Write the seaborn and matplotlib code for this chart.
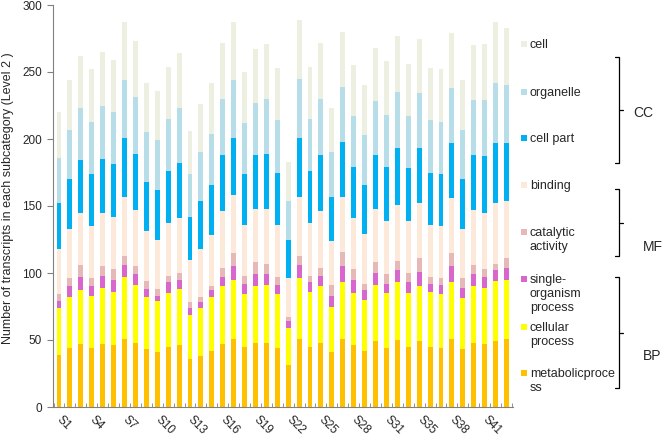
import numpy as np
import pandas as pd
import matplotlib
matplotlib.use("Agg")
import matplotlib.pyplot as plt
import seaborn as sns
from matplotlib.patches import Rectangle

# sample names (S34 is absent in the source figure)
samples = [f"S{i}" for i in range(1, 34)] + [f"S{i}" for i in range(35, 44)]

metabolic = [39, 44, 47, 44, 47, 46, 51, 48, 43, 41, 45, 46, 36, 38, 42, 47, 51, 45, 48, 48, 44,
             31, 51, 45, 48, 41, 51, 46, 42, 49, 44, 50, 45, 49, 45, 44, 51, 43, 48, 47, 49, 51]
cellular = [35, 38, 40, 39, 42, 40, 46, 43, 39, 38, 40, 42, 33, 36, 40, 43, 44, 39, 42, 43, 40,
            28, 45, 41, 42, 34, 42, 39, 38, 42, 41, 43, 40, 41, 41, 40, 42, 38, 42, 42, 45, 44]
single_organism = [5, 8, 10, 7, 9, 9, 9, 8, 6, 4, 8, 7, 5, 4, 5, 7, 10, 8, 9, 8, 7,
                   5, 10, 7, 8, 8, 12, 10, 7, 9, 7, 9, 8, 11, 6, 7, 12, 8, 9, 8, 8, 9]
catalytic = [5, 6, 9, 6, 7, 8, 7, 6, 6, 5, 5, 5, 4, 4, 3, 7, 10, 6, 9, 8, 6,
             3, 7, 5, 6, 8, 11, 8, 5, 8, 7, 7, 7, 10, 5, 5, 10, 7, 7, 6, 5, 7]
binding = [34, 37, 39, 39, 40, 39, 44, 42, 37, 37, 39, 41, 32, 36, 38, 42, 43, 38, 40, 41, 39,
           29, 44, 39, 42, 33, 41, 38, 37, 40, 40, 42, 39, 41, 39, 39, 41, 37, 41, 42, 45, 43]
cell_part = [34, 37, 39, 39, 40, 39, 44, 42, 37, 37, 39, 41, 32, 36, 38, 42, 43, 38, 40, 41, 39,
             29, 44, 39, 42, 33, 41, 38, 37, 40, 40, 42, 39, 41, 39, 39, 41, 37, 41, 42, 45, 43]
organelle = [34, 37, 39, 39, 40, 39, 43, 42, 37, 37, 39, 41, 32, 36, 38, 42, 43, 38, 39, 41, 39,
             29, 44, 39, 42, 33, 41, 38, 37, 40, 39, 42, 39, 41, 39, 39, 41, 37, 41, 42, 45, 43]
cell = [34, 37, 39, 39, 40, 39, 43, 42, 37, 37, 39, 41, 32, 36, 38, 42, 43, 38, 40, 41, 39,
        29, 44, 39, 42, 33, 41, 38, 37, 40, 40, 42, 39, 41, 39, 39, 41, 37, 41, 42, 45, 43]

# bottom -> top
categories = ["metabolicprocess", "cellular process", "single-organism process",
              "catalytic activity", "binding", "cell part", "organelle", "cell"]
series = [metabolic, cellular, single_organism, catalytic, binding, cell_part, organelle, cell]
colors = ["#FFC000", "#FFFF00", "#D966CC", "#E6B9B8", "#FDE9D9", "#00B0F0", "#B7DEE8", "#EDF0E0"]

legend_lines = [["metabolicproce", "ss"], ["cellular", "process"], ["single-", "organism", "process"],
                ["catalytic", "activity"], ["binding"], ["cell part"], ["organelle"], ["cell"]]

df = pd.DataFrame(dict(zip(categories, series)))
df["sample"] = samples
cum = df[categories].cumsum(axis=1)
cum["sample"] = samples

sns.set_style("ticks")
plt.rcParams["font.family"] = ["Liberation Sans", "DejaVu Sans"]

fig = plt.figure(figsize=(6.71, 4.37), dpi=100)
ax = fig.add_axes([53 / 671, 1 - 407 / 437, 460 / 671, 402 / 437])

# draw tallest cumulative first so smaller ones sit on top
for cat, col in zip(reversed(categories), reversed(colors)):
    sns.barplot(data=cum, x="sample", y=cat, color=col, saturation=1, width=0.45,
                errorbar=None, linewidth=0, ax=ax)

ax.set_ylim(0, 300)
ax.set_xlim(-0.55, 41.6)
ax.set_yticks(range(0, 301, 50))
ax.set_xticks(range(0, len(samples), 3))
ax.set_xticklabels(samples[::3], rotation=-45, ha="left", va="center",
                   rotation_mode="anchor", fontsize=8.5)
ax.set_xticks(np.arange(-0.5, len(samples), 1), minor=True)
ax.tick_params(axis="x", which="major", length=0, pad=8)
ax.tick_params(axis="x", which="minor", direction="in", length=3, color="#808080")
ax.tick_params(axis="y", length=4, color="#808080", labelsize=8.5, pad=4)
ax.set_xlabel("")
ax.set_ylabel("Number of transcripts in each subcategory (Level 2 )", fontsize=9, va="center")
ax.yaxis.set_label_coords(-0.098, 0.52)
for s in ["top", "right"]:
    ax.spines[s].set_visible(False)
for s in ["left", "bottom"]:
    ax.spines[s].set_color("#808080")

# overlay in pixel coordinates for legend and brackets
ov = fig.add_axes([0, 0, 1, 1])
ov.set_xlim(0, 671)
ov.set_ylim(437, 0)
ov.axis("off")
ov.patch.set_visible(False)

first_y = [373.3, 326.7, 279.3, 232.3, 185, 138.3, 91.7, 44.3]
for lines, col, y in zip(legend_lines, colors, first_y):
    ov.add_patch(Rectangle((520.7, y - 3), 6, 6, color=col, lw=0))
    for k, line in enumerate(lines):
        ov.text(530, y + 4 + 14 * k, line, fontsize=9, va="baseline", ha="left")

brackets = [("CC", 57, 163, 633, 113), ("MF", 189, 256, 643, 247), ("BP", 277, 388, 643, 356)]
for name, y0, y1, tx, ty in brackets:
    ov.plot([615, 619, 619, 615], [y0, y0, y1, y1], color="black", lw=0.9)
    ym = (y0 + y1) / 2
    ov.plot([619, 623], [ym, ym], color="black", lw=0.9)
    ov.text(tx, ty, name, fontsize=10, va="center", ha="left")

fig.savefig("out.png", dpi=100)
